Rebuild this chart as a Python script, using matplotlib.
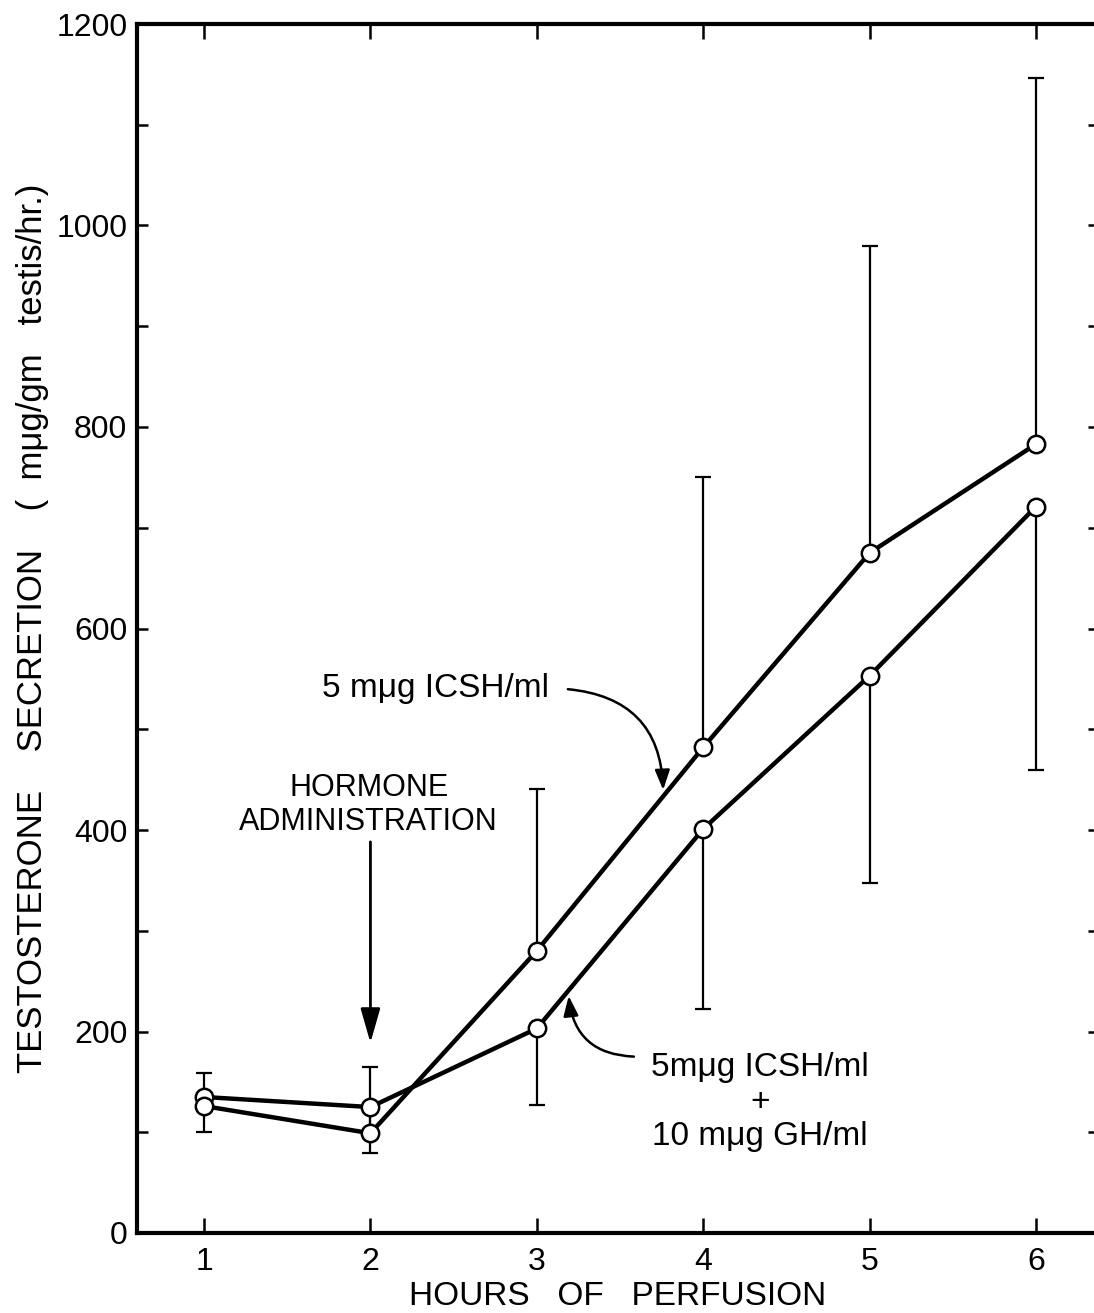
import matplotlib
matplotlib.use("Agg")
import matplotlib.pyplot as plt
from matplotlib.patches import FancyArrowPatch
from matplotlib.ticker import MultipleLocator

plt.rcParams['font.family'] = ['Liberation Sans', 'DejaVu Sans']

hours = [1, 2, 3, 4, 5, 6]
icsh = [126, 99, 280, 482, 675, 783]
icsh_gh = [135, 125, 203, 401, 553, 721]
# error bars drawn upward for ICSH series, downward for ICSH+GH series
icsh_err_up = [33, 66, 161, 268, 305, 363]
gh_err_down = [35, 46, 76, 179, 206, 261]
x_ticks = [1, 2, 3, 4, 5, 6]
y_ticks = [0, 200, 400, 600, 800, 1000, 1200]

W, H = 1094, 1313
fig = plt.figure(figsize=(W / 100, H / 100), dpi=100)
left, right, bottom, top = 137 / W, 1099 / W, (H - 1233) / H, (H - 24) / H
ax = fig.add_axes([left, bottom, right - left, top - bottom])
ax.set_xlim(0.597, 6.379)
ax.set_ylim(0, 1200)

lw = 3.2
ax.errorbar(hours, icsh, yerr=[[0] * 6, icsh_err_up], fmt='none', ecolor='black',
            elinewidth=1.6, capsize=5.5, capthick=1.6, zorder=2)
ax.errorbar(hours, icsh_gh, yerr=[gh_err_down, [0] * 6], fmt='none', ecolor='black',
            elinewidth=1.6, capsize=5.5, capthick=1.6, zorder=2)
ax.plot(hours, icsh, color='black', lw=lw, marker='o', ms=12.5, mfc='white',
        mec='black', mew=1.8, zorder=4)
ax.plot(hours, icsh_gh, color='black', lw=lw, marker='o', ms=12.5, mfc='white',
        mec='black', mew=1.8, zorder=3)

for s in ax.spines.values():
    s.set_linewidth(3.0)

ax.set_xticks(x_ticks)
ax.set_xticklabels([str(v) for v in x_ticks])
ax.set_yticks(y_ticks)
ax.set_yticklabels([str(v) for v in y_ticks])
ax.yaxis.set_minor_locator(MultipleLocator(100))
ax.tick_params(axis='both', which='both', direction='in', width=1.8, labelsize=23,
               top=True, right=True)
ax.tick_params(axis='x', which='major', length=11, pad=10)
ax.tick_params(axis='y', which='both', length=8, pad=7)

ax.set_xlabel('HOURS   OF   PERFUSION', fontsize=24, labelpad=3)
ax.set_ylabel('TESTOSTERONE    SECRETION    (  m\u03bcg/gm   testis/hr.)', fontsize=25,
              labelpad=5)

# annotations
ax.text(1.709, 540, '5 m\u03bcg ICSH/ml', fontsize=24, ha='left', va='center')
ax.text(1.99, 425, 'HORMONE\nADMINISTRATION', fontsize=22, ha='center', va='center',
        linespacing=1.15)
ax.text(4.34, 130, '5m\u03bcg ICSH/ml\n+\n10 m\u03bcg GH/ml', fontsize=24, ha='center',
        va='center', linespacing=1.15)

a1 = FancyArrowPatch((3.17, 540), (3.76, 437), connectionstyle='arc3,rad=-0.45',
                     arrowstyle='-|>,head_length=8,head_width=3', lw=1.8,
                     color='black', mutation_scale=1.5)
ax.add_patch(a1)
a2 = FancyArrowPatch((3.60, 175), (3.19, 238), connectionstyle='arc3,rad=-0.45',
                     arrowstyle='-|>,head_length=8,head_width=3', lw=1.8,
                     color='black', mutation_scale=1.5)
ax.add_patch(a2)
a3 = FancyArrowPatch((2.0, 391), (2.0, 186), arrowstyle='-|>,head_length=14,head_width=4',
                     lw=2.0, color='black', mutation_scale=1.5)
ax.add_patch(a3)

fig.savefig('out.png', dpi=100)
